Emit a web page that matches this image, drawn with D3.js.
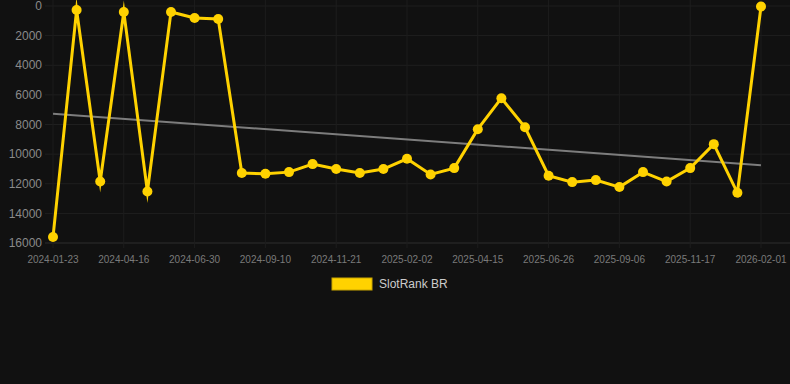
<!DOCTYPE html>
<html><head><meta charset="utf-8">
<script src="https://cdn.jsdelivr.net/npm/d3@7"></script>
<style>html,body{margin:0;padding:0;background:#111111;}svg{display:block;}</style>
</head><body>
<svg id="c" width="790" height="384"></svg>
<script>
const dates = ["2024-01-23","2024-02-20","2024-03-19","2024-04-16","2024-05-11","2024-06-05","2024-06-30","2024-07-24","2024-08-17","2024-09-10","2024-10-04","2024-10-28","2024-11-21","2024-12-15","2025-01-09","2025-02-02","2025-02-26","2025-03-22","2025-04-15","2025-05-09","2025-06-02","2025-06-26","2025-07-20","2025-08-13","2025-09-06","2025-09-30","2025-10-24","2025-11-17","2025-12-12","2026-01-07","2026-02-01"];
const tickLabels = ["2024-01-23","2024-04-16","2024-06-30","2024-09-10","2024-11-21","2025-02-02","2025-04-15","2025-06-26","2025-09-06","2025-11-17","2026-02-01"];
const values = [15600,270,11850,400,12520,400,810,880,11280,11330,11215,10675,11010,11280,11010,10315,11370,10945,8315,6225,8190,11460,11890,11755,12225,11215,11850,10945,9325,12610,30];
const yTicks = [0,2000,4000,6000,8000,10000,12000,14000,16000];
const seriesName = "SlotRank BR";

const svg = d3.select("#c");
const W = 790;
const x = d3.scalePoint().domain(dates).range([53, 761]);
const y = d3.scaleLinear().domain([0, 16000]).range([6, 243]);

// horizontal grid
svg.append("g").selectAll("line").data(yTicks).join("line")
  .attr("x1", 45).attr("x2", W).attr("y1", d => y(d)).attr("y2", d => y(d))
  .attr("stroke", d => d === 16000 ? "#2f2f2f" : "#1f1f1f").attr("stroke-width", 1);
// vertical grid
svg.append("g").selectAll("line").data(tickLabels).join("line")
  .attr("x1", d => x(d)).attr("x2", d => x(d)).attr("y1", 0).attr("y2", 248)
  .attr("stroke", "#1d1d1d").attr("stroke-width", 1);

// y labels
svg.append("g").selectAll("text").data(yTicks).join("text")
  .attr("x", 42).attr("y", d => y(d)).attr("dy", "0.35em")
  .attr("text-anchor", "end").attr("fill", "#8a8a8a")
  .attr("font-family", "Liberation Sans, Arial, sans-serif").attr("font-size", 12)
  .text(d => d);
// x labels
svg.append("g").selectAll("text").data(tickLabels).join("text")
  .attr("x", d => x(d)).attr("y", 259).attr("dy", "0.35em")
  .attr("text-anchor", "middle").attr("fill", "#7a7a7a")
  .attr("font-family", "Liberation Sans, Arial, sans-serif").attr("font-size", 10)
  .text(d => d);

// trend line (least squares)
const n = values.length;
const idx = d3.range(n);
const mx = d3.mean(idx), my = d3.mean(values);
const slope = d3.sum(idx, i => (i - mx) * (values[i] - my)) / d3.sum(idx, i => (i - mx) ** 2);
const intercept = my - slope * mx;
svg.append("line")
  .attr("x1", x(dates[0])).attr("y1", y(intercept))
  .attr("x2", x(dates[n - 1])).attr("y2", y(intercept + slope * (n - 1)))
  .attr("stroke", "#7d7d7d").attr("stroke-width", 2);

// series line
const line = d3.line().x((d, i) => x(dates[i])).y(d => y(d));
svg.append("path").datum(values).attr("d", line)
  .attr("fill", "none").attr("stroke", "#FFD200").attr("stroke-width", 3)
  .attr("stroke-linejoin", "miter").attr("stroke-miterlimit", 10);
svg.append("g").selectAll("circle").data(values).join("circle")
  .attr("cx", (d, i) => x(dates[i])).attr("cy", d => y(d)).attr("r", 5)
  .attr("fill", "#FFD200");

// legend
const lg = svg.append("g");
lg.append("rect").attr("x", 332).attr("y", 278).attr("width", 40).attr("height", 12)
  .attr("fill", "#FFD200").attr("stroke", "#c9a600").attr("stroke-width", 1);
lg.append("text").attr("x", 379).attr("y", 284).attr("dy", "0.35em")
  .attr("fill", "#cccccc").attr("font-family", "Liberation Sans, Arial, sans-serif")
  .attr("font-size", 12).text(seriesName);
</script>
</body></html>
